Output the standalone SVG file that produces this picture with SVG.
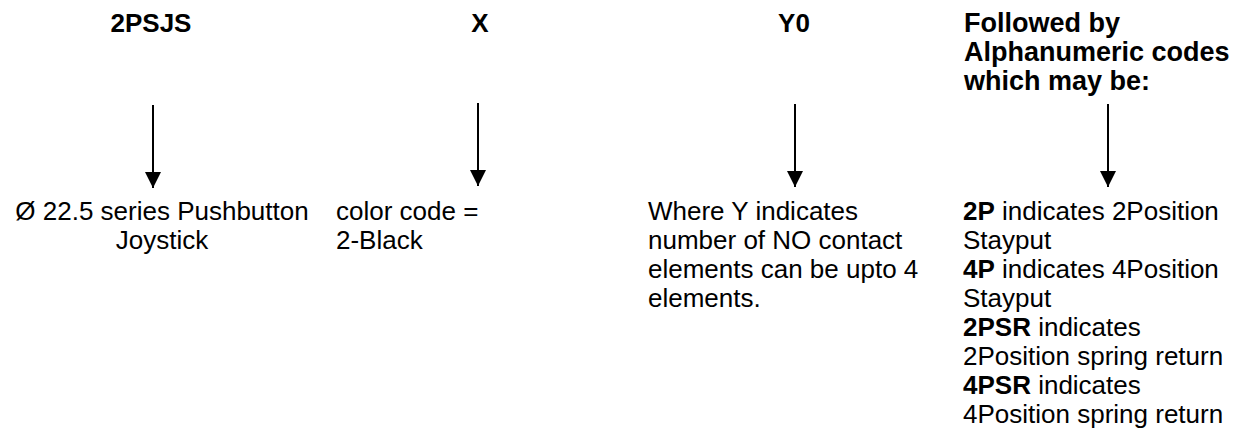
<svg xmlns="http://www.w3.org/2000/svg" width="1234" height="434" viewBox="0 0 1234 434">
<style>
text{font-family:"Liberation Sans",Arial,sans-serif;font-size:26px;fill:#000}
.b{font-weight:bold}
.h{font-size:27px}
.c{text-anchor:middle}
.ln{stroke:#000;stroke-width:2;fill:none}
</style>
<defs>
<marker id="ah" markerUnits="userSpaceOnUse" markerWidth="16" markerHeight="16" refX="16" refY="8" orient="auto">
<path d="M0,0 L16,8 L0,16 Z" fill="#000"/>
</marker>
</defs>
<rect width="1234" height="434" fill="#fff"/>
<g id="connectors">
<line class="ln" x1="153" y1="105" x2="153" y2="188" marker-end="url(#ah)"/>
<line class="ln" x1="478" y1="103" x2="478" y2="186" marker-end="url(#ah)"/>
<line class="ln" x1="795" y1="104" x2="795" y2="187" marker-end="url(#ah)"/>
<line class="ln" x1="1108" y1="104" x2="1108" y2="187" marker-end="url(#ah)"/>
</g>
<g id="h1"><text class="b c" x="151" y="32">2PSJS</text></g>
<g id="h2"><text class="b c" x="480" y="32">X</text></g>
<g id="h3"><text class="b c" x="794" y="32">Y0</text></g>
<g id="h4"><text class="b h" x="964" y="32">Followed by</text><text class="b h" x="964" y="61">Alphanumeric codes</text><text class="b h" x="964" y="90">which may be:</text></g>
<g id="d1"><text class="c" x="162" y="220">Ø 22.5 series Pushbutton</text><text class="c" x="162" y="249">Joystick</text></g>
<g id="d2"><text x="336" y="220">color code =</text><text x="336" y="249">2-Black</text></g>
<g id="d3"><text x="648" y="220">Where Y indicates</text><text x="648" y="249">number of NO contact</text><text x="648" y="278">elements can be upto 4</text><text x="648" y="307">elements.</text></g>
<g id="d4">
<text x="963" y="220"><tspan class="b">2P</tspan> indicates 2Position</text>
<text x="963" y="249">Stayput</text>
<text x="963" y="278"><tspan class="b">4P</tspan> indicates 4Position</text>
<text x="963" y="307">Stayput</text>
<text x="963" y="336"><tspan class="b">2PSR</tspan> indicates</text>
<text x="963" y="365">2Position spring return</text>
<text x="963" y="394"><tspan class="b">4PSR</tspan> indicates</text>
<text x="963" y="423">4Position spring return</text>
</g>
</svg>
